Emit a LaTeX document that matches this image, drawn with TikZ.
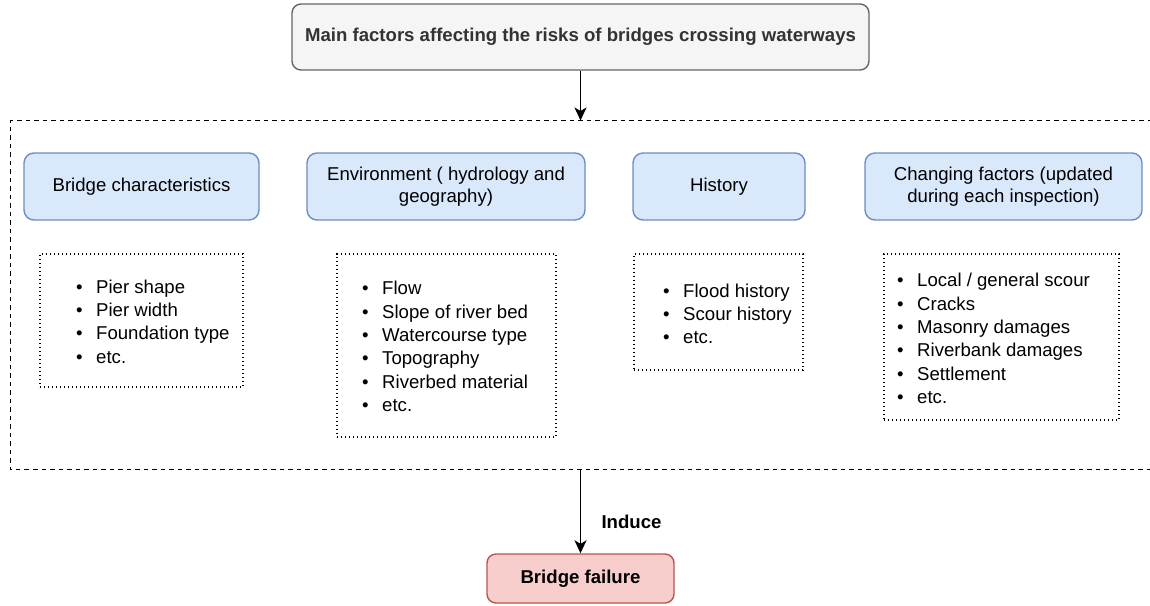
\documentclass[tikz,border=0pt]{standalone}
\usepackage{fontspec}
\setmainfont{Liberation Sans}
\usetikzlibrary{arrows.meta}
\definecolor{bluefill}{HTML}{DAE8FC}
\definecolor{bluedraw}{HTML}{6C8EBF}
\definecolor{redfill}{HTML}{F8CECC}
\definecolor{reddraw}{HTML}{B85450}
\definecolor{greyfill}{HTML}{F5F5F5}
\definecolor{greydraw}{HTML}{666666}
\definecolor{greytext}{HTML}{333333}
\newcommand{\bitem}[1]{\makebox[20pt][l]{\textbullet}#1}
\tikzset{
  base/.style={font=\fontsize{18.6}{22.5}\selectfont, line width=1.4pt},
  titlebox/.style={base, draw=greydraw, fill=greyfill, text=greytext, rounded corners=9pt, font=\fontsize{18.6}{22.5}\selectfont\bfseries, minimum width=577pt, minimum height=66pt},
  catbox/.style={base, draw=bluedraw, fill=bluefill, rounded corners=10pt, align=center, minimum height=67pt},
  listframe/.style={line width=1.4pt, draw=black, dash pattern=on 1.4pt off 2.6pt, minimum height=#1},
  listtext/.style={font=\fontsize{18.6}{23.3}\selectfont, align=left, inner sep=0pt, anchor=west},
  failbox/.style={base, draw=reddraw, fill=redfill, rounded corners=9pt, font=\fontsize{18.6}{22.5}\selectfont\bfseries, minimum width=187pt, minimum height=49pt},
  frame/.style={line width=1.6pt, dash pattern=on 4.5pt off 4pt},
  arr/.style={line width=1.8pt, -{Stealth[length=13pt,width=12pt,inset=3.5pt]}},
}
\begin{document}
\begin{tikzpicture}[x=1pt,y=-1pt]
\useasboundingbox (0,0) rectangle (1150,605);
% top
\node[titlebox] (title) at (580.5,37) {Main factors affecting the risks of bridges crossing waterways};
% frame
\coordinate (ftl) at (10.5,120.5);
\coordinate (ftr) at (1152,120.5);
\coordinate (fbl) at (10.5,469.5);
\coordinate (fbr) at (1152,469.5);
\coordinate (ftop) at (580.5,120.5);
\coordinate (fbot) at (580.5,469.5);
\draw[frame] (ftr) -- (ftl) -- (fbl) -- (fbr);
% categories
\node[catbox, minimum width=235pt] (c1) at (141.5,186.5) {\raisebox{-2pt}{Bridge characteristics}};
\node[catbox, minimum width=278pt] (c2) at (446,186.5) {\raisebox{-2pt}{Environment ( hydrology and}\\\raisebox{-2pt}{geography)}};
\node[catbox, minimum width=172pt] (c3) at (719,186.5) {\raisebox{-2pt}{History}};
\node[catbox, minimum width=277pt] (c4) at (1003.5,186.5) {\raisebox{-2pt}{Changing factors (updated}\\\raisebox{-2pt}{during each inspection)}};
% list frames
\node[listframe=133pt, minimum width=203pt] (l1) at (141.5,320.5) {};
\node[listframe=183pt, minimum width=219pt] (l2) at (446.5,345.5) {};
\node[listframe=116pt, minimum width=169pt] (l3) at (718.5,312) {};
\node[listframe=166pt, minimum width=235pt] (l4) at (1001.5,337) {};
% lists
\node[listtext] (t1) at (76,321.5) {\bitem{Pier shape}\\\bitem{Pier width}\\\bitem{Foundation type}\\\bitem{etc.}};
\node[listtext] (t2) at (362,346.5) {\bitem{Flow}\\\bitem{Slope of river bed}\\\bitem{Watercourse type}\\\bitem{Topography}\\\bitem{Riverbed material}\\\bitem{etc.}};
\node[listtext] (t3) at (663,314) {\bitem{Flood history}\\\bitem{Scour history}\\\bitem{etc.}};
\node[listtext] (t4) at (897,338.5) {\bitem{Local / general scour}\\\bitem{Cracks}\\\bitem{Masonry damages}\\\bitem{Riverbank damages}\\\bitem{Settlement}\\\bitem{etc.}};
% failure
\node[failbox] (fail) at (580.5,578.5) {Bridge failure};
% arrows
\draw[arr] (title.south) -- (ftop);
\draw[arr] (fbot) -- (fail.north);
\node[font=\fontsize{18.6}{22.5}\selectfont\bfseries] (induce) at (631.5,521.5) {Induce};
\end{tikzpicture}
\end{document}
